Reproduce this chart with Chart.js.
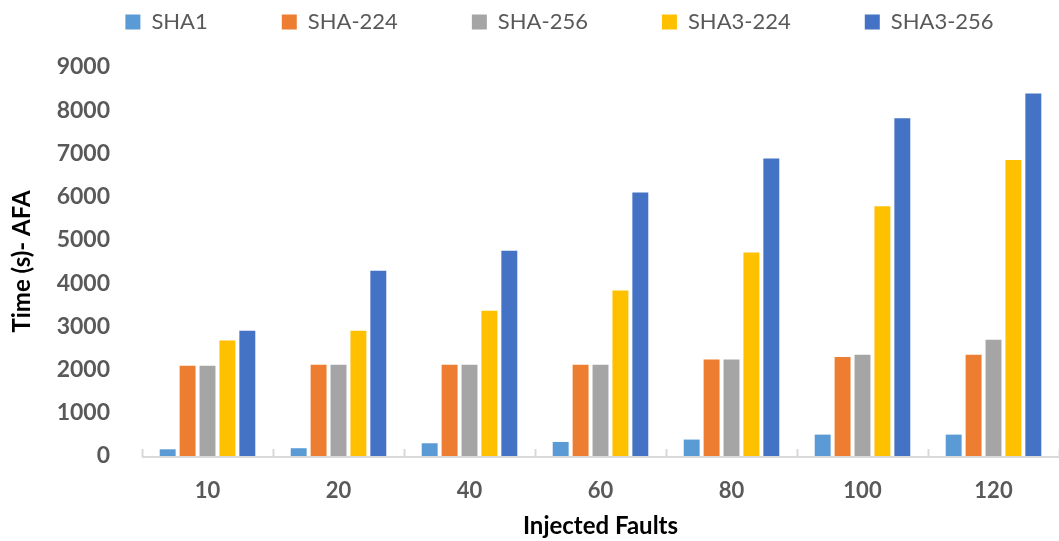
<!DOCTYPE html>
<html>
<head>
<meta charset="utf-8">
<script src="https://cdn.jsdelivr.net/npm/chart.js@4"></script>
<style>
html,body{margin:0;padding:0;background:#fff;}
#wrap{width:1059px;height:541px;position:relative;}
</style>
</head>
<body>
<div id="wrap"><canvas id="c" width="1059" height="541"></canvas></div>
<script>
const categories = ['10', '20', '40', '60', '80', '100', '120'];
const seriesNames = ['SHA1', 'SHA-224', 'SHA-256', 'SHA3-224', 'SHA3-256'];
const sha1 = [155, 180, 295, 325, 380, 495, 495];
const sha224 = [2090, 2110, 2110, 2110, 2235, 2290, 2345];
const sha256 = [2090, 2110, 2110, 2110, 2235, 2345, 2690];
const sha3_224 = [2670, 2900, 3360, 3830, 4710, 5780, 6850];
const sha3_256 = [2900, 4285, 4750, 6095, 6885, 7815, 8385];
const yTicks = [0, 1000, 2000, 3000, 4000, 5000, 6000, 7000, 8000, 9000];
const colors = ['#5B9BD5', '#ED7D31', '#A5A5A5', '#FFC000', '#4472C4'];
const seriesValues = [sha1, sha224, sha256, sha3_224, sha3_256];

const FONT = 'Lato, "Open Sans", sans-serif';
const LEGEND_PAD = 74;
const PAD_TOP = -63;
const CHART_TOP = 67;

const legendFix = {
  id: 'legendFix',
  beforeLayout(chart) {
    const lg = chart.legend;
    if (lg && !lg._patched) {
      const origFit = lg.fit.bind(lg);
      lg.fit = function () { origFit(); this.height = CHART_TOP - PAD_TOP; };
      const origDraw = lg.draw.bind(lg);
      lg.draw = function (a) {
        const ctx = this.ctx;
        ctx.save();
        ctx.translate(30, 0);
        origDraw(a);
        ctx.restore();
      };
      lg._patched = true;
    }
  }
};

const boundaryTicks = {
  id: 'boundaryTicks',
  afterDatasetsDraw(chart) {
    const x = chart.scales.x;
    const ctx = chart.ctx;
    const bottom = chart.chartArea.bottom;
    const n = categories.length;
    const w = (x.right - x.left) / n;
    ctx.save();
    ctx.strokeStyle = '#d9d9d9';
    ctx.lineWidth = 2;
    ctx.beginPath();
    ctx.moveTo(x.left, bottom + 1);
    ctx.lineTo(x.right, bottom + 1);
    for (let i = 0; i <= n; i++) {
      const px = Math.round(x.left + i * w) + 0.5;
      ctx.moveTo(px, bottom + 1);
      ctx.lineTo(px, bottom - 7);
    }
    ctx.stroke();
    ctx.restore();
  }
};

new Chart(document.getElementById('c'), {
  type: 'bar',
  data: {
    labels: categories,
    datasets: seriesNames.map((name, i) => ({
      label: name,
      data: seriesValues[i],
      backgroundColor: colors[i],
      borderWidth: 0,
      categoryPercentage: 0.76,
      barPercentage: 0.8
    }))
  },
  options: {
    responsive: false,
    animation: false,
    devicePixelRatio: 1,
    layout: { padding: { left: 0, right: 0, top: PAD_TOP, bottom: 0 } },
    plugins: {
      legend: {
        position: 'top',
        labels: {
          boxWidth: 15,
          boxHeight: 15,
          padding: LEGEND_PAD,
          color: '#595959',
          font: { family: FONT, size: 22 }
        }
      },
      tooltip: { enabled: false }
    },
    scales: {
      x: {
        grid: { display: false },
        border: { display: false },
        ticks: {
          color: '#595959',
          font: { family: FONT, size: 22, weight: 'bold' },
          padding: 14
        },
        title: {
          display: true,
          text: 'Injected Faults',
          color: '#000',
          font: { family: FONT, size: 24, weight: 'bold' },
          padding: { top: 4, bottom: 0 }
        },
        afterFit(s) { s.height = 85; }
      },
      y: {
        min: 0,
        max: 9000,
        afterBuildTicks(s) { s.ticks = yTicks.map(v => ({ value: v })); },
        grid: { display: false },
        border: { display: false },
        ticks: {
          color: '#595959',
          font: { family: FONT, size: 23, weight: 'bold' },
          padding: 24,
          callback: (v) => String(v)
        },
        title: {
          display: true,
          text: 'Time (s)- AFA',
          color: '#000',
          font: { family: FONT, size: 24, weight: 'bold' },
          padding: { top: 8, bottom: 0 }
        },
        afterFit(s) { s.width = 142; }
      }
    }
  },
  plugins: [legendFix, boundaryTicks]
});
</script>
</body>
</html>
